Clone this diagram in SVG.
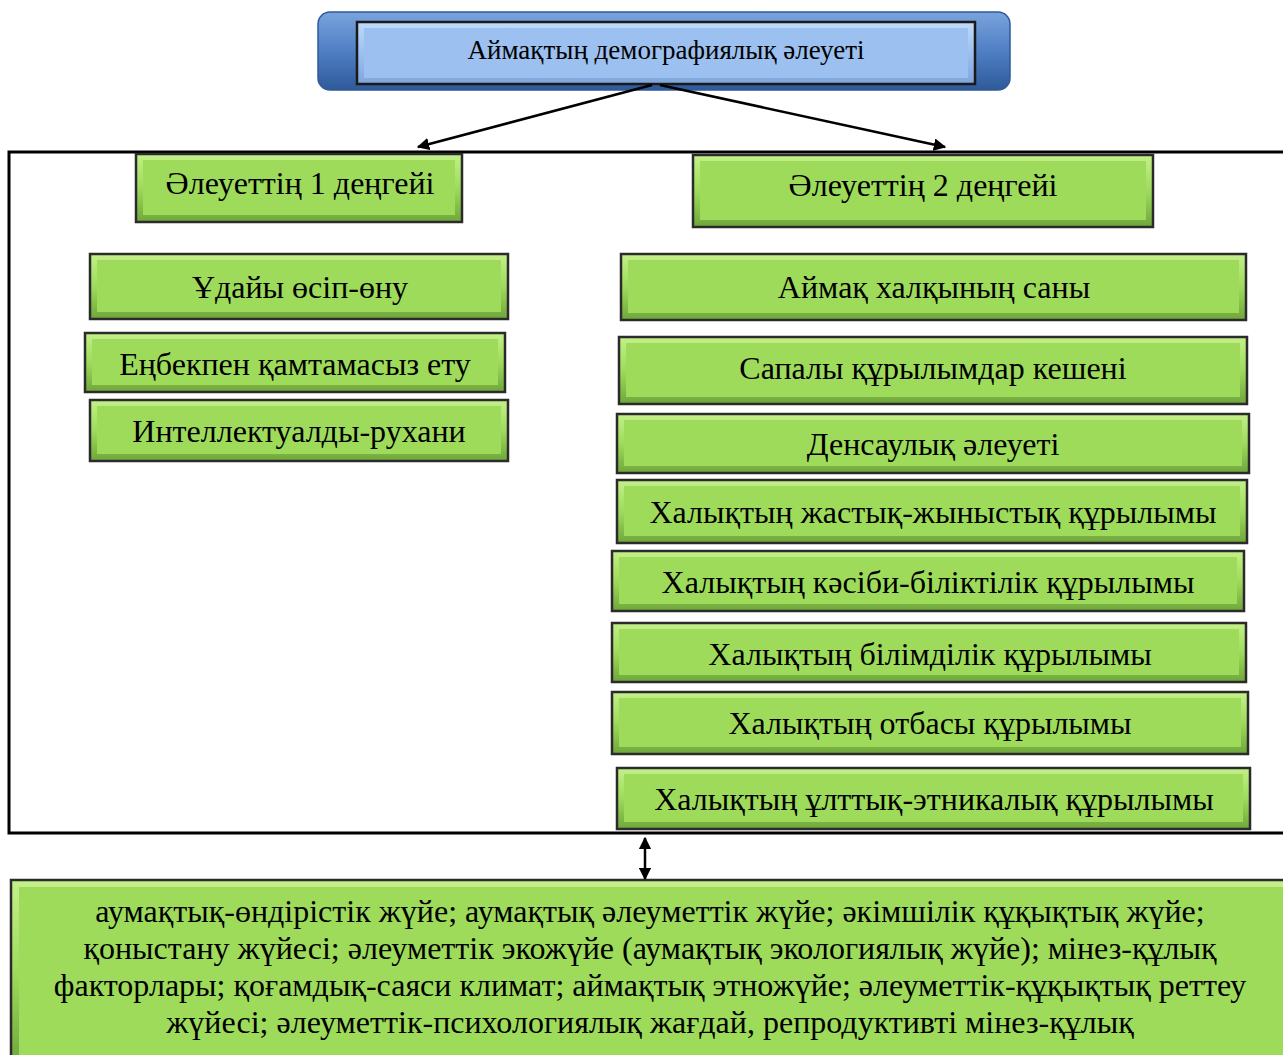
<svg xmlns="http://www.w3.org/2000/svg" width="1283" height="1055" viewBox="0 0 1283 1055">
<style>
.g{fill:url(#gg);stroke:#2b2b2b;stroke-width:2.5}
.gi{fill:#9edb5b}
.t{font-family:"Liberation Serif","Times New Roman",serif;font-size:32px;fill:#000;text-anchor:middle}
.c{stroke:#000;stroke-width:2.5;fill:none}
</style>
<defs>
<linearGradient id="gg" x1="0" y1="0" x2="0" y2="1">
<stop offset="0" stop-color="#c4f08a"/>
<stop offset="0.5" stop-color="#9edb5b"/>
<stop offset="1" stop-color="#6fa63c"/>
</linearGradient>
<linearGradient id="bg" x1="0" y1="0" x2="0" y2="1">
<stop offset="0" stop-color="#7aa3dc"/>
<stop offset="0.5" stop-color="#4f7fc4"/>
<stop offset="1" stop-color="#2f5a9a"/>
</linearGradient>
<linearGradient id="lb" x1="0" y1="0" x2="0" y2="1">
<stop offset="0" stop-color="#c2dafa"/>
<stop offset="0.5" stop-color="#9cc0ef"/>
<stop offset="1" stop-color="#7fa6dc"/>
</linearGradient>
<marker id="ah" viewBox="0 0 10 10" refX="9" refY="5" markerWidth="5" markerHeight="5" orient="auto-start-reverse">
<path d="M0,0 L10,5 L0,10 z" fill="#000"/>
</marker>
</defs>

<g id="frame">
<path d="M1283,152 L9,152 L9,833 L1283,833" fill="none" stroke="#000" stroke-width="3"/>
</g>

<g id="root">
<rect x="318" y="12" width="692" height="78" rx="12" fill="url(#bg)" stroke="#2f5a9a" stroke-width="1.5"/>
<rect x="357" y="22" width="618" height="62" fill="url(#lb)" stroke="#1a1a1a" stroke-width="2.5"/>
<rect x="364" y="28" width="604" height="50" fill="#9cc0ef"/>
<text class="t" x="666" y="59" style="font-size:27px">Аймақтың демографиялық әлеуеті</text>
</g>

<g id="level1">
<rect class="g" x="136" y="154" width="326" height="68"/>
<rect class="gi" x="143" y="160" width="312" height="55"/>
<text class="t" x="300" y="194">Әлеуеттің 1 деңгейі</text>
</g>
<g id="l1a">
<rect class="g" x="90" y="254" width="418" height="65"/>
<rect class="gi" x="97" y="260" width="404" height="52"/>
<text class="t" x="300" y="298">Ұдайы өсіп-өну</text>
</g>
<g id="l1b">
<rect class="g" x="85" y="333" width="420" height="59"/>
<rect class="gi" x="92" y="339" width="406" height="46"/>
<text class="t" x="295" y="375">Еңбекпен қамтамасыз ету</text>
</g>
<g id="l1c">
<rect class="g" x="90" y="400" width="418" height="61"/>
<rect class="gi" x="97" y="406" width="404" height="48"/>
<text class="t" x="299" y="442">Интеллектуалды-рухани</text>
</g>

<g id="level2">
<rect class="g" x="693" y="155" width="460" height="72"/>
<rect class="gi" x="700" y="161" width="446" height="59"/>
<text class="t" x="923" y="196">Әлеуеттің 2 деңгейі</text>
</g>
<g id="r1">
<rect class="g" x="621" y="254" width="625" height="66"/>
<rect class="gi" x="628" y="260" width="611" height="53"/>
<text class="t" x="934" y="298">Аймақ халқының саны</text>
</g>
<g id="r2">
<rect class="g" x="619" y="337" width="628" height="67"/>
<rect class="gi" x="626" y="343" width="614" height="54"/>
<text class="t" x="933" y="379">Сапалы құрылымдар кешені</text>
</g>
<g id="r3">
<rect class="g" x="617" y="414" width="632" height="59"/>
<rect class="gi" x="624" y="420" width="618" height="46"/>
<text class="t" x="933" y="455">Денсаулық әлеуеті</text>
</g>
<g id="r4">
<rect class="g" x="617" y="480" width="630" height="63"/>
<rect class="gi" x="624" y="486" width="616" height="50"/>
<text class="t" x="933" y="523">Халықтың жастық-жыныстық құрылымы</text>
</g>
<g id="r5">
<rect class="g" x="612" y="551" width="632" height="60"/>
<rect class="gi" x="619" y="557" width="618" height="47"/>
<text class="t" x="928" y="593">Халықтың кәсіби-біліктілік құрылымы</text>
</g>
<g id="r6">
<rect class="g" x="612" y="623" width="634" height="59"/>
<rect class="gi" x="619" y="629" width="620" height="46"/>
<text class="t" x="930" y="665">Халықтың білімділік құрылымы</text>
</g>
<g id="r7">
<rect class="g" x="612" y="692" width="636" height="62"/>
<rect class="gi" x="619" y="698" width="622" height="49"/>
<text class="t" x="930" y="734">Халықтың отбасы құрылымы</text>
</g>
<g id="r8">
<rect class="g" x="617" y="768" width="633" height="61"/>
<rect class="gi" x="624" y="774" width="619" height="48"/>
<text class="t" x="934" y="810">Халықтың ұлттық-этникалық құрылымы</text>
</g>

<g id="bottom">
<rect class="g" x="11" y="880" width="1285" height="185" stroke-width="3"/>
<rect class="gi" x="19" y="887" width="1270" height="170"/>
<text class="t" x="650" y="922">аумақтық-өндірістік жүйе; аумақтық әлеуметтік жүйе; әкімшілік құқықтық жүйе;</text>
<text class="t" x="650" y="959">қоныстану жүйесі; әлеуметтік экожүйе (аумақтық экологиялық жүйе); мінез-құлық</text>
<text class="t" x="650" y="996">факторлары; қоғамдық-саяси климат; аймақтық этножүйе; әлеуметтік-құқықтық реттеу</text>
<text class="t" x="650" y="1033">жүйесі; әлеуметтік-психологиялық жағдай, репродуктивті мінез-құлық</text>
</g>

<g id="connectors">
<line class="c" x1="652" y1="85" x2="418" y2="147" marker-end="url(#ah)"/>
<line class="c" x1="660" y1="85" x2="945" y2="147" marker-end="url(#ah)"/>
<line class="c" x1="645" y1="838" x2="645" y2="879" stroke-width="3" marker-start="url(#ah)" marker-end="url(#ah)"/>
</g>
</svg>
